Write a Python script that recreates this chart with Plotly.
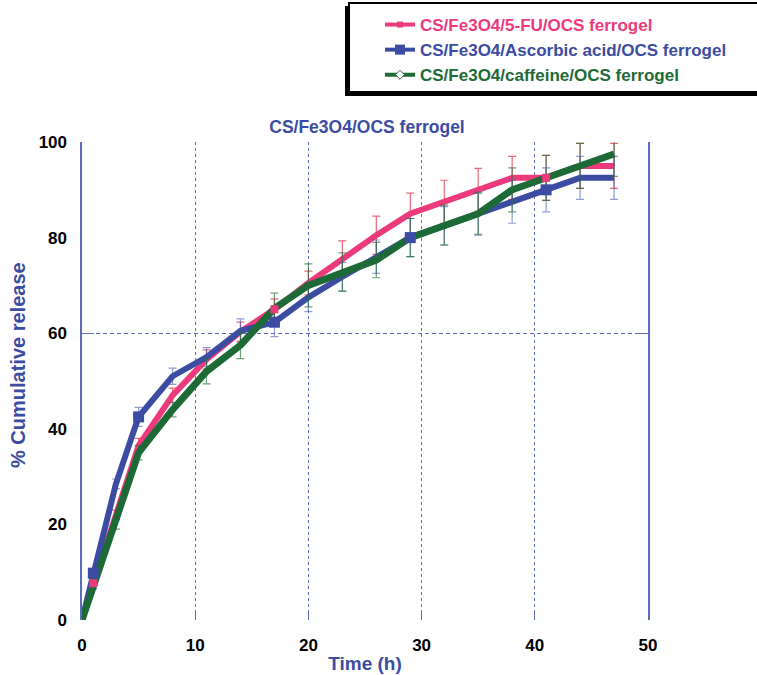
import plotly.graph_objects as go

# ---------------- data ----------------
time_h = [0, 1, 3, 5, 8, 11, 14, 17, 20, 23, 26, 29, 32, 35, 38, 41, 44, 47]

fu_release = [0, 7.7, 22, 36.5, 47, 54.5, 60.3, 65, 70.5, 75.5, 80.5, 85, 87.5, 90, 92.5, 92.5, 95, 95]
fu_err = [0, 0.5, 1, 1.5, 1.5, 2, 2, 2.2, 2.5, 3.8, 4, 4.3, 4.5, 4.5, 4.5, 4.7, 4.7, 4.7]

aa_release = [0, 9.8, 28.5, 42.5, 51, 55, 60.5, 62.3, 67.5, 71.8, 76, 80, 82.5, 85, 87.5, 90, 92.5, 92.5]
aa_err = [0, 0.5, 1, 2, 1.7, 2, 2.5, 3, 3, 3, 3.5, 4, 4, 4.5, 4.5, 4.6, 4.5, 4.5]

caf_release = [0, 7, 20, 35, 44, 52, 57.5, 65.2, 70, 72.8, 75.3, 80, 82.6, 85, 90, 92.5, 95, 97.5]
caf_err = [0, 0.5, 1, 1.5, 1.5, 2.6, 2.8, 3.2, 4.5, 4, 3.7, 4, 4.2, 4.3, 4.6, 4.7, 4.7, 4.7]

series_names = ["CS/Fe3O4/5-FU/OCS ferrogel",
                "CS/Fe3O4/Ascorbic acid/OCS ferrogel",
                "CS/Fe3O4/caffeine/OCS ferrogel"]
chart_title = "CS/Fe3O4/OCS ferrogel"
x_title = "Time (h)"
y_title = "% Cumulative release"
x_ticks = [0, 10, 20, 30, 40, 50]
y_ticks = [0, 20, 40, 60, 80, 100]
y_ref_ticks = [60]

# ---------------- style ----------------
PINK = "#ec3a7c"
BLUE = "#3c4ca2"
GREEN = "#1e6a37"
AXIS = "#5c6cbc"
FONT = "Arial, Liberation Sans, sans-serif"

fu_marker_times = [1, 17, 41]
aa_marker_times = [1, 5, 17, 29, 41]

fig = go.Figure()

# hidden trace so the overlaying right axis (frame + 60 % reference line) is drawn
fig.add_trace(go.Scatter(x=[None], y=[None], yaxis="y2", showlegend=False,
                         hoverinfo="skip", mode="lines"))

def line_trace(y, err, color, errcolor, width):
    return go.Scatter(
        x=time_h, y=y, mode="lines", showlegend=False, hoverinfo="skip",
        line=dict(color=color, width=width),
        error_y=dict(type="data", array=err, visible=True, color=errcolor,
                     thickness=1.2, width=4),
    )

fig.add_trace(line_trace(fu_release, fu_err, PINK, "rgba(230,40,60,0.7)", 6))
fig.add_trace(line_trace(aa_release, aa_err, BLUE, "rgba(70,90,180,0.6)", 6))
fig.add_trace(line_trace(caf_release, caf_err, GREEN, "rgba(30,110,55,0.65)", 7))

def pick(times, values):
    return [t for t in times], [values[time_h.index(t)] for t in times]

mx, my = pick(fu_marker_times, fu_release)
fig.add_trace(go.Scatter(x=mx, y=my, mode="markers", showlegend=False, hoverinfo="skip",
                         marker=dict(symbol="square", size=8, color=PINK)))
mx, my = pick(aa_marker_times, aa_release)
fig.add_trace(go.Scatter(x=mx, y=my, mode="markers", showlegend=False, hoverinfo="skip",
                         marker=dict(symbol="square", size=11, color=BLUE)))

# legend-only entries
legend_styles = [
    (PINK, dict(symbol="square", size=6, color=PINK)),
    (BLUE, dict(symbol="square", size=10, color=BLUE)),
    (GREEN, dict(symbol="diamond", size=7, color="white", line=dict(color=GREEN, width=1))),
]
for name, (col, mk) in zip(series_names, legend_styles):
    fig.add_trace(go.Scatter(
        x=[None], y=[None], mode="lines+markers",
        name=f"<span style='color:{col}'><b>{name}</b></span>",
        line=dict(color=col, width=4), marker=mk,
    ))

W, H = 757, 675
L, R, T, B = 82, 648, 142, 620
pw, ph = R - L, B - T

def px(xp):
    return (xp - L) / pw

def py(yp):
    return (B - yp) / ph

fig.update_layout(
    width=W, height=H,
    margin=dict(l=L, r=W - R, t=T, b=H - B, autoexpand=False),
    paper_bgcolor="white", plot_bgcolor="white",
    font=dict(family=FONT, color="black"),
    title=dict(text=chart_title, x=px(367), xref="paper", xanchor="center",
               y=(H - 127) / H, yref="container", yanchor="middle",
               font=dict(size=17.5, color=BLUE, family=FONT, weight="bold")),
    showlegend=True,
    legend=dict(x=px(380), y=py(7), xanchor="left", yanchor="top",
                bgcolor="rgba(0,0,0,0)", borderwidth=0,
                font=dict(size=17, family=FONT), tracegroupgap=0),
    xaxis=dict(range=[0, 50], tickvals=x_ticks, showgrid=True, griddash="dot",
               gridcolor=AXIS, gridwidth=1, zeroline=False, showline=False,
               ticks="inside", ticklen=10, tickcolor=AXIS, tickwidth=1,
               ticklabelstandoff=13,
               tickfont=dict(size=17, color="black", family=FONT, weight="bold"),
               title=dict(text=x_title, standoff=2,
                          font=dict(size=19, color=BLUE, family=FONT, weight="bold"))),
    yaxis=dict(range=[0, 100], tickvals=y_ticks, showgrid=False, zeroline=False,
               showline=False, ticks="", ticklabelstandoff=14,
               tickfont=dict(size=17, color="black", family=FONT, weight="bold")),
    yaxis2=dict(range=[0, 100], overlaying="y", side="right", tickvals=y_ref_ticks,
                showticklabels=False, showgrid=True, griddash="4px,3px",
                gridcolor=AXIS, gridwidth=1, zeroline=False,
                showline=True, linecolor=AXIS, linewidth=1.5,
                mirror="ticks", ticks="inside", ticklen=12, tickcolor=AXIS),
    annotations=[
        dict(text=y_title, xref="paper", yref="paper", x=px(18), y=py(365),
             xanchor="center", yanchor="middle", textangle=-90, showarrow=False,
             font=dict(size=20, color=BLUE, family=FONT, weight="bold")),
    ],
    shapes=[
        dict(type="rect", xref="paper", yref="paper",
             x0=px(345), x1=px(765), y0=py(96), y1=py(6),
             fillcolor="black", line=dict(width=0), layer="above"),
        dict(type="rect", xref="paper", yref="paper",
             x0=px(349), x1=px(765), y0=py(92), y1=py(3),
             fillcolor="white", line=dict(color="black", width=2), layer="above"),
    ],
)

fig.write_html("out.html")
